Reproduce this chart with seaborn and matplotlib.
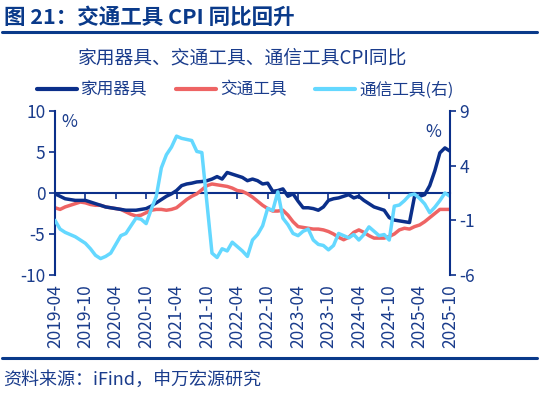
import numpy as np
import pandas as pd
import matplotlib
matplotlib.use("Agg")
import matplotlib.pyplot as plt
import seaborn as sns

# ---------------- data ----------------
months = pd.period_range("2019-04", "2025-10", freq="M").strftime("%Y-%m").tolist()

household = [-0.1, -0.4, -0.7, -0.8, -0.9, -0.9, -0.9, -1.1, -1.3, -1.5,
             -1.7, -1.8, -1.9, -2.0, -2.1, -2.1, -2.1, -2.0, -1.9, -1.6,
             -1.2, -0.8, -0.4, -0.1, 0.3, 0.9, 1.1, 1.2, 1.35, 1.4,
             1.5, 1.7, 2.0, 1.7, 2.5, 2.3, 2.1, 1.9, 1.5, 1.7,
             1.5, 1.1, 1.2, 0.2, 0.3, 0.5, -0.4, -0.1, -1.0, -1.8,
             -1.8, -1.9, -2.1, -1.7, -0.9, -0.7, -0.6, -0.4, -0.2, -0.6,
             -0.4, -0.9, -1.3, -1.7, -1.9, -2.1, -3.0, -3.3, -3.4, -3.5,
             -3.6, -0.4, -0.4, -0.2, 0.9, 2.7, 4.9, 5.5, 5.1]

transport = [-1.8, -2.0, -1.7, -1.5, -1.3, -1.1, -1.2, -1.4, -1.5, -1.5,
             -1.7, -1.8, -1.9, -2.0, -2.3, -2.6, -2.8, -2.7, -2.4, -2.1,
             -2.0, -2.0, -2.1, -2.0, -1.8, -1.3, -0.8, -0.4, -0.1, 0.4,
             0.9, 1.1, 1.0, 0.9, 0.8, 0.6, 0.3, 0.2, -0.1, -0.5,
             -1.0, -1.5, -1.9, -2.2, -2.2, -2.1, -2.7, -3.5, -4.1, -4.2,
             -4.3, -4.4, -4.4, -4.5, -4.7, -5.0, -5.4, -5.7, -5.4, -4.8,
             -4.5, -4.8, -5.2, -5.5, -5.5, -5.5, -5.3, -5.0, -4.5, -4.3,
             -4.4, -4.1, -3.9, -3.5, -3.0, -2.5, -2.0, -2.0, -2.0]

telecom = [-1.0, -1.8, -2.1, -2.3, -2.5, -2.8, -3.1, -3.6, -4.2, -4.5,
           -4.3, -4.0, -3.2, -2.4, -2.2, -1.5, -0.8, -0.9, -1.3, 0.0,
           1.2, 3.8, 5.0, 5.7, 6.7, 6.5, 6.4, 6.3, 5.3, 5.2,
           0.6, -4.0, -4.4, -3.6, -3.8, -3.0, -3.4, -3.8, -4.3, -2.8,
           -2.3, -1.5, 0.1, -0.1, 1.6, -0.8, -1.4, -2.2, -2.4, -2.0,
           -1.8, -2.8, -3.2, -3.3, -3.7, -3.3, -2.2, -2.4, -2.6, -2.3,
           -2.8, -2.3, -1.6, -2.0, -2.4, -2.3, -2.8, 0.3, 0.4, 0.8,
           1.3, 1.4, 1.0, 0.5, -0.3, 0.2, 0.8, 1.5, 1.2]

series_names = ["家用器具", "交通工具", "通信工具(右)"]
left_ticks = [-10, -5, 0, 5, 10]
right_ticks = [-6, -1, 4, 9]

title_text = "图 21：交通工具 CPI 同比回升"
subtitle_text = "家用器具、交通工具、通信工具CPI同比"
source_text = "资料来源：iFind，申万宏源研究"

# ---------------- style ----------------
sns.set_theme(style="white")
plt.rcParams["font.family"] = ["Noto Sans CJK SC", "DejaVu Sans"]
plt.rcParams["axes.unicode_minus"] = False

NAVY = "#0B2F8A"
RED = "#EE6464"
LBLUE = "#64D8FF"
TXT = "#1A3C8C"

df = pd.DataFrame({"idx": np.arange(len(months)), "month": months,
                   "household": household, "transport": transport,
                   "telecom": telecom})

fig = plt.figure(figsize=(5.39, 3.95), dpi=100)
ax = fig.add_axes([55 / 539, 1 - 275 / 395, 395 / 539, 164 / 395])
ax2 = ax.twinx()

sns.lineplot(data=df, x="idx", y="transport", ax=ax, color=RED, lw=2.5,
             label=series_names[1], legend=False)
sns.lineplot(data=df, x="idx", y="household", ax=ax, color=NAVY, lw=2.5,
             label=series_names[0], legend=False)
sns.lineplot(data=df, x="idx", y="telecom", ax=ax2, color=LBLUE, lw=2.5,
             label=series_names[2], legend=False)

ax.set_xlim(0, len(months) - 1)
ax.set_ylim(-10, 10)
ax2.set_ylim(-6, 9)
ax.set_yticks(left_ticks)
ax2.set_yticks(right_ticks)
ax.set_xlabel("")
ax.set_ylabel("")
ax2.set_ylabel("")

# spines
for a in (ax, ax2):
    for s in a.spines.values():
        s.set_visible(False)
ax.spines["left"].set_visible(True)
ax.spines["left"].set_color(NAVY)
ax.spines["left"].set_linewidth(1.5)
ax2.spines["right"].set_visible(True)
ax2.spines["right"].set_color(NAVY)
ax2.spines["right"].set_linewidth(1.5)
ax.spines["bottom"].set_visible(True)
ax.spines["bottom"].set_position(("data", 0))
ax.spines["bottom"].set_color(NAVY)
ax.spines["bottom"].set_linewidth(1.5)
ax.spines["bottom"].set_zorder(0.5)

xt = list(range(0, len(months), 6))
ax.set_xticks(xt)
ax.tick_params(axis="x", direction="out", length=4, width=1.2, color=NAVY,
               labelbottom=False, bottom=True)
ax2.tick_params(axis="x", bottom=False, labelbottom=False)
ax.tick_params(axis="y", direction="out", length=4, width=1.2, color=NAVY,
               labelcolor=TXT, labelsize=12.5, left=True, pad=3)
ax2.tick_params(axis="y", direction="out", length=4, width=1.2, color=NAVY,
                labelcolor=TXT, labelsize=12.5, right=True, pad=3)

sec = ax.secondary_xaxis("bottom")
sec.set_xticks(xt, [months[i] for i in xt], rotation=90)
sec.tick_params(length=0, pad=7, labelsize=12.5, labelcolor=TXT)
sec.spines["bottom"].set_visible(False)

# % labels
ax.text(0.035, 0.935, "%", transform=ax.transAxes, ha="center", va="center",
        color=TXT, fontsize=12.5)
ax.text(0.957, 0.872, "%", transform=ax.transAxes, ha="center", va="center",
        color=TXT, fontsize=12.5)

# title, rules, subtitle, legend, source
fig.text(4 / 539, 1 - 17 / 395, title_text, ha="left", va="center",
         color="#0A3A8A", fontsize=15.5, fontweight="bold")
fig.add_artist(plt.Line2D([2 / 539, 537 / 539], [1 - 32 / 395, 1 - 32 / 395],
                          color="#0A3A8A", lw=2.2))
fig.text(242 / 539, 1 - 58 / 395, subtitle_text, ha="center", va="center",
         color=TXT, fontsize=13.5)

h1, l1 = ax.get_legend_handles_labels()
h2, l2 = ax2.get_legend_handles_labels()
handles = [h1[l1.index(series_names[0])], h1[l1.index(series_names[1])], h2[0]]
labels = [series_names[0], series_names[1], series_names[2]]
leg = fig.legend(handles, labels, loc="center", bbox_to_anchor=(245 / 539, 1 - 90 / 395),
                 ncol=3, frameon=False, fontsize=12, handlelength=2.4,
                 handletextpad=0.25, columnspacing=1.7)
for t in leg.get_texts():
    t.set_color(TXT)
for lh in leg.get_lines():
    lh.set_linewidth(3)

fig.add_artist(plt.Line2D([2 / 539, 537 / 539], [1 - 358 / 395, 1 - 358 / 395],
                          color="#0A3A8A", lw=2.2))
fig.text(3 / 539, 1 - 380 / 395, source_text, ha="left", va="center",
         color=TXT, fontsize=13)

fig.savefig("out.png", dpi=100)
